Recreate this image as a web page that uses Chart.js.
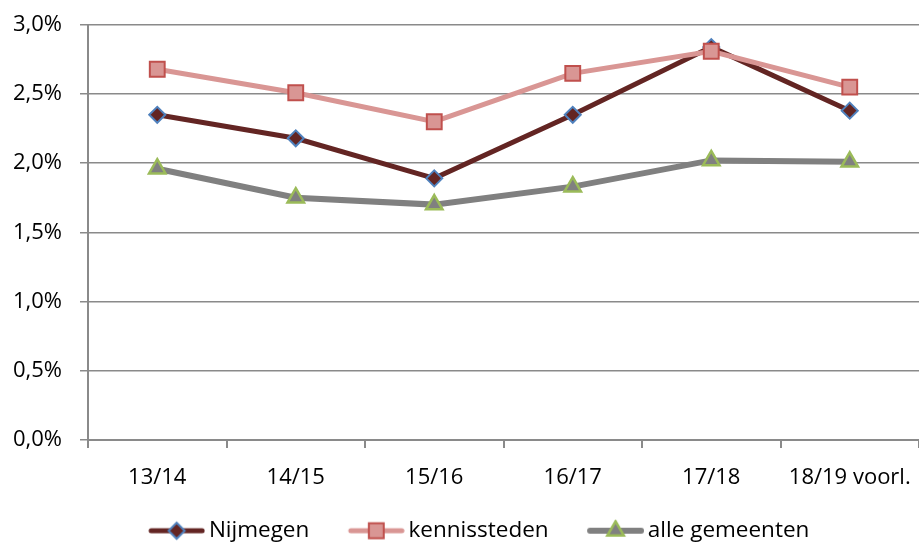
<!DOCTYPE html>
<html lang="nl">

<head>
  <meta charset="UTF-8" />
  <title>Chart</title>
  <script src="https://cdn.jsdelivr.net/npm/chart.js"></script>
  <style>
    html, body { margin: 0; padding: 0; background: #fff; }
    .c-chart { width: 919px; height: 543px; position: relative; }
  </style>
</head>

<body>
  <div class="c-chart">
    <canvas id="myChart"></canvas>
  </div>

  <script>
    // data (percent)
    const years = ['13/14', '14/15', '15/16', '16/17', '17/18', '18/19 voorl.'];
    const nijmegen = [2.35, 2.18, 1.89, 2.35, 2.84, 2.38];
    const kennissteden = [2.68, 2.51, 2.30, 2.65, 2.81, 2.55];
    const alleGemeenten = [1.96, 1.75, 1.70, 1.83, 2.02, 2.01];
    const yTicks = [0, 0.5, 1.0, 1.5, 2.0, 2.5, 3.0];

    const gridColor = '#8a8a8a';

    Chart.defaults.font.family = "'Open Sans', sans-serif";
    Chart.defaults.color = '#000';

    // little line + marker picture for the legend
    function legendIcon(ds) {
      const c = document.createElement('canvas');
      c.width = 103;
      c.height = 24;
      const ctx = c.getContext('2d');
      const x0 = c.width - 57;
      ctx.strokeStyle = ds.borderColor;
      ctx.lineWidth = ds.borderWidth;
      ctx.lineCap = 'round';
      ctx.beginPath();
      ctx.moveTo(x0 + 3, 12);
      ctx.lineTo(c.width - 3, 12);
      ctx.stroke();
      ctx.fillStyle = ds.pointBackgroundColor;
      ctx.strokeStyle = ds.pointBorderColor;
      ctx.lineWidth = ds.pointBorderWidth;
      Chart.helpers.drawPoint(ctx, {
        pointStyle: ds.pointStyle,
        radius: ds.pointRadius,
        borderWidth: ds.pointBorderWidth,
        rotation: 0
      }, x0 + 28.5, 12);
      return c;
    }

    const datasets = [{
      label: 'Nijmegen',
      data: nijmegen,
      borderColor: '#632523',
      borderWidth: 5,
      pointStyle: 'rectRot',
      pointRadius: 8,
      pointBackgroundColor: '#632523',
      pointBorderColor: '#4f81bd',
      pointBorderWidth: 2,
      order: 1
    }, {
      label: 'kennissteden',
      data: kennissteden,
      borderColor: '#d99694',
      borderWidth: 5,
      pointStyle: 'rect',
      pointRadius: 10.5,
      pointBackgroundColor: '#d99694',
      pointBorderColor: '#c0504d',
      pointBorderWidth: 2,
      order: 0
    }, {
      label: 'alle gemeenten',
      data: alleGemeenten,
      borderColor: '#808080',
      borderWidth: 6,
      pointStyle: 'triangle',
      pointRadius: 9.5,
      pointBackgroundColor: '#808080',
      pointBorderColor: '#9bbb59',
      pointBorderWidth: 2.5,
      order: 2
    }];

    datasets.forEach(ds => {
      ds.tension = 0;
      ds.pointHoverRadius = ds.pointRadius;
    });

    new Chart(document.getElementById('myChart'), {
      type: 'line',
      data: { labels: years, datasets: datasets },
      options: {
        responsive: true,
        maintainAspectRatio: false,
        animation: false,
        layout: {
          autoPadding: false,
          padding: { top: 25, right: 0, left: 0, bottom: -9 }
        },
        plugins: {
          tooltip: { enabled: false },
          legend: {
            position: 'bottom',
            labels: {
              usePointStyle: true,
              pointStyleWidth: 88,
              padding: 0,
              font: { size: 22.5 },
              generateLabels: chart => chart.data.datasets.map((ds, i) => ({
                text: ds.label,
                pointStyle: legendIcon(ds),
                datasetIndex: i,
                lineWidth: 0,
                fillStyle: 'transparent',
                strokeStyle: 'transparent'
              }))
            }
          }
        },
        scales: {
          x: {
            offset: true,
            grid: {
              offset: true,
              drawOnChartArea: false,
              // long tick space for the labels, but only the first 7px drawn
              tickLength: 19,
              tickBorderDash: [7, 40],
              color: gridColor,
              lineWidth: 2
            },
            border: { color: gridColor, width: 2 },
            ticks: { font: { size: 22 }, padding: 6, maxRotation: 0 },
            afterFit: scale => { scale.height = 80; }
          },
          y: {
            min: 0,
            max: 3,
            afterBuildTicks: scale => { scale.ticks = yTicks.map(v => ({ value: v })); },
            grid: { tickLength: 8, color: gridColor, lineWidth: 1.5 },
            border: { color: gridColor, width: 2 },
            ticks: {
              font: { size: 22 },
              padding: 18,
              callback: v => v.toFixed(1).replace('.', ',') + '%'
            },
            afterFit: scale => {
              scale.width = 88;
              scale.paddingTop = 0;
              scale.paddingBottom = 0;
            }
          }
        }
      }
    });
  </script>
</body>

</html>
